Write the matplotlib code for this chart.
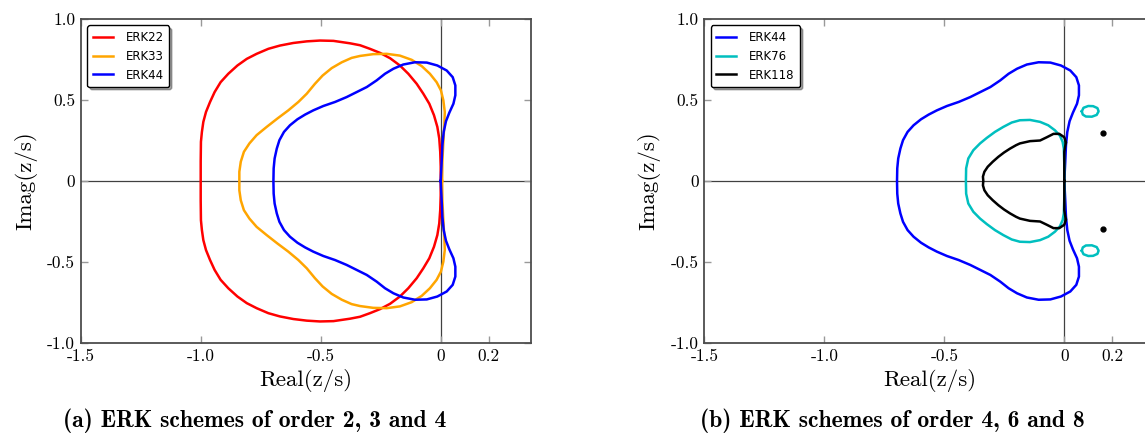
import numpy as np
import matplotlib
matplotlib.use("Agg")
import matplotlib.pyplot as plt

# upper halves of the stability boundaries (Real, Imag);
# the regions are symmetric about the real axis
erk22_x = [0.0, 0.0, -0.002, -0.006, -0.014, -0.028, -0.0475, -0.0725, -0.10, -0.135,
           -0.170, -0.211, -0.253, -0.295, -0.336, -0.378, -0.447, -0.503, -0.558,
           -0.614, -0.670, -0.718, -0.767, -0.808, -0.847, -0.885, -0.917, -0.942,
           -0.961, -0.978, -0.989, -0.995, -0.999, -1.0, -1.0]
erk22_y = [0.0, 0.09, 0.18, 0.262, 0.334, 0.406, 0.477, 0.539, 0.60, 0.662,
           0.713, 0.758, 0.791, 0.816, 0.838, 0.850, 0.865, 0.867, 0.862,
           0.852, 0.836, 0.816, 0.785, 0.754, 0.713, 0.662, 0.61, 0.549,
           0.488, 0.426, 0.365, 0.303, 0.242, 0.12, 0.0]

erk33_x = [0.006, 0.007, 0.011, 0.015, 0.017, 0.011, 0.001, -0.017, -0.045, -0.079,
           -0.121, -0.17, -0.225, -0.281, -0.336, -0.371, -0.412, -0.454, -0.492,
           -0.524, -0.558, -0.593, -0.635, -0.681, -0.725, -0.767, -0.797, -0.82,
           -0.833, -0.839, -0.839]
erk33_y = [0.0, 0.119, 0.242, 0.344, 0.426, 0.498, 0.559, 0.61, 0.662, 0.709,
           0.748, 0.774, 0.785, 0.783, 0.772, 0.760, 0.733, 0.697, 0.651,
           0.60, 0.539, 0.488, 0.436, 0.385, 0.334, 0.283, 0.232, 0.18,
           0.119, 0.057, 0.0]

erk44_x = [0.0, 0.004, 0.007, 0.0125, 0.022, 0.036, 0.053, 0.061, 0.061, 0.05,
           0.025, -0.014, -0.058, -0.107, -0.156, -0.197, -0.232, -0.267, -0.308,
           -0.35, -0.392, -0.44, -0.489, -0.531, -0.565, -0.597, -0.628, -0.653,
           -0.672, -0.683, -0.692, -0.696, -0.697]
erk44_y = [0.0, 0.119, 0.221, 0.303, 0.369, 0.422, 0.477, 0.529, 0.59, 0.641,
           0.682, 0.713, 0.731, 0.733, 0.719, 0.693, 0.662, 0.621, 0.58,
           0.549, 0.518, 0.488, 0.463, 0.436, 0.41, 0.381, 0.344, 0.303,
           0.252, 0.2, 0.139, 0.078, 0.0]

erk76_x = [0.0, 0.0, -0.002, -0.007, -0.018, -0.039, -0.067, -0.101, -0.143, -0.185,
           -0.219, -0.254, -0.289, -0.323, -0.351, -0.379, -0.40, -0.409, -0.41]
erk76_y = [0.0, 0.1, 0.2, 0.242, 0.279, 0.313, 0.344, 0.365, 0.377, 0.375,
           0.361, 0.334, 0.303, 0.266, 0.232, 0.19, 0.139, 0.078, 0.0]

# small detached loop of ERK76 (upper one)
loop76_x = [0.073, 0.08, 0.10, 0.12, 0.138, 0.143, 0.135, 0.115, 0.09, 0.077, 0.073]
loop76_y = [0.43, 0.452, 0.463, 0.462, 0.45, 0.43, 0.408, 0.397, 0.398, 0.41, 0.43]

erk118_x = [0.0, 0.0, 0.0, 0.003, 0.007, 0.0, -0.021, -0.045, -0.073, -0.101,
            -0.143, -0.185, -0.201, -0.226, -0.251, -0.275, -0.298, -0.319, -0.333,
            -0.339, -0.3375]
erk118_y = [0.0, 0.1, 0.18, 0.21, 0.238, 0.27, 0.291, 0.291, 0.27, 0.25,
            0.246, 0.232, 0.221, 0.2, 0.176, 0.149, 0.119, 0.088, 0.057,
            0.027, 0.0]
# tiny detached pieces of ERK118
dots118_x = [0.161, 0.161]
dots118_y = [0.298, -0.298]

xticks = [-1.5, -1.0, -0.5, 0.0, 0.2]
xtick_labels = ["-1.5", "-1.0", "-0.5", "0", "0.2"]
yticks = [-1.0, -0.5, 0.0, 0.5, 1.0]
ytick_labels = ["-1.0", "-0.5", "0", "0.5", "1.0"]

captions = ["(a) ERK schemes of order 2, 3 and 4",
            "(b) ERK schemes of order 4, 6 and 8"]


def closed(xs, ys):
    # upper half plus its mirror image below the real axis
    xs = np.asarray(xs)
    ys = np.asarray(ys)
    return np.concatenate([xs, xs[::-1]]), np.concatenate([ys, -ys[::-1]])


def setup(ax):
    ax.set_xlim(-1.5, 0.375)
    ax.set_ylim(-1.0, 1.0)
    ax.axhline(0, color="0.25", lw=0.9, zorder=1)
    ax.axvline(0, color="0.25", lw=0.9, zorder=1)
    ax.set_xticks(xticks)
    ax.set_xticklabels(xtick_labels, fontfamily="cmr10", fontsize=12.5)
    ax.set_yticks(yticks)
    ax.set_yticklabels(ytick_labels, fontfamily="cmr10", fontsize=12.5)
    ax.tick_params(direction="in", top=True, right=True, length=5, width=1,
                   color="0.6", pad=4)
    for s in ax.spines.values():
        s.set_color("0.3")
        s.set_linewidth(1.3)
    ax.set_xlabel("Real(z/s)", fontfamily="cmr10", fontsize=16.5)
    ax.set_ylabel("Imag(z/s)", fontfamily="cmr10", fontsize=16.5)
    ax.xaxis.set_label_coords(0.5, -0.08)
    ax.yaxis.set_label_coords(-0.097, 0.5)


def legend(ax):
    leg = ax.legend(loc="upper left", fontsize=8.5, shadow=True, fancybox=True,
                    handlelength=1.7, handletextpad=1.1, borderaxespad=0.55,
                    borderpad=0.45, labelspacing=0.5)
    leg.get_frame().set_edgecolor("black")
    leg.get_frame().set_linewidth(1.0)


lw = 1.8
fig = plt.figure(figsize=(11.45, 4.4), dpi=100)
ax1 = fig.add_axes([80.7 / 1145, 97 / 440, 450 / 1145, 324 / 440])
ax2 = fig.add_axes([704.3 / 1145, 97 / 440, 450 / 1145, 324 / 440])

setup(ax1)
ax1.plot(*closed(erk22_x, erk22_y), color="red", lw=lw, label="ERK22")
ax1.plot(*closed(erk33_x, erk33_y), color="orange", lw=lw, label="ERK33")
ax1.plot(*closed(erk44_x, erk44_y), color="blue", lw=lw, label="ERK44")
legend(ax1)

setup(ax2)
ax2.plot(*closed(erk44_x, erk44_y), color="blue", lw=lw, label="ERK44")
ax2.plot(*closed(erk76_x, erk76_y), color="c", lw=lw, label="ERK76")
ax2.plot(loop76_x, loop76_y, color="c", lw=lw)
ax2.plot(loop76_x, [-v for v in loop76_y], color="c", lw=lw)
ax2.plot(*closed(erk118_x, erk118_y), color="black", lw=lw, label="ERK118")
ax2.plot(dots118_x, dots118_y, "o", color="black", ms=3.5)
legend(ax2)

fig.text(255 / 1145, 19 / 440, captions[0], fontfamily="cmb10", fontsize=17,
         ha="center", va="center")
fig.text(892 / 1145, 19 / 440, captions[1], fontfamily="cmb10", fontsize=17,
         ha="center", va="center")

fig.savefig("out.png", dpi=100)
